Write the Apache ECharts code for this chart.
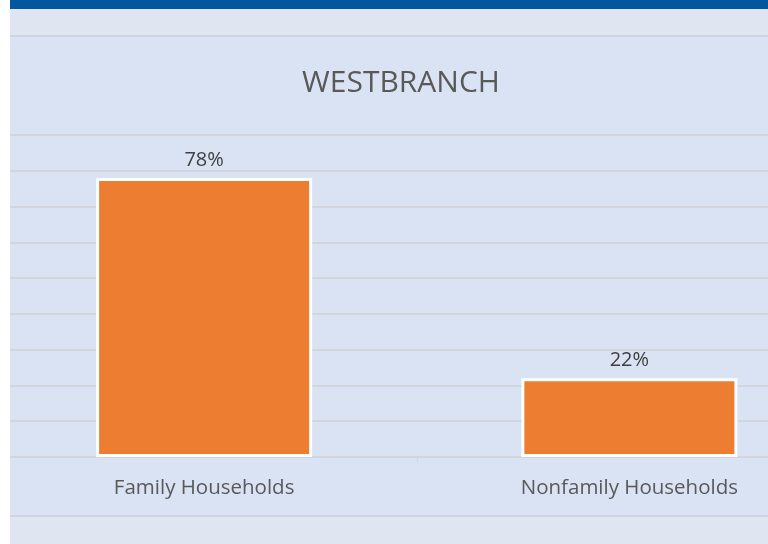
<!DOCTYPE html>
<html>
<head>
<meta charset="utf-8">
<script src="https://cdn.jsdelivr.net/npm/echarts@6/dist/echarts.min.js"></script>
<style>
  html, body { margin: 0; padding: 0; background: #ffffff; overflow: hidden; width: 768px; height: 544px; }
  #main { position: absolute; left: -9px; top: 9px; width: 851px; height: 535px; }
  #band { position: absolute; left: 10px; top: 0; width: 758px; height: 9px; background: #02589e; z-index: 2; }
  #edge { position: absolute; left: 0; top: 0; width: 10px; height: 544px; background: #ffffff; z-index: 2; }
</style>
</head>
<body>
<div id="main"></div>
<div id="band"></div>
<div id="edge"></div>
<script>
// chart data
var categories = ['Family Households', 'Nonfamily Households'];
var shares = [78, 22];
var chartTitle = 'WESTBRANCH';

var myChart = echarts.init(document.getElementById('main'));
myChart.setOption({
    backgroundColor: '#dfe6f2',
    title: {
        text: chartTitle,
        left: 405,
        textAlign: 'center',
        top: 54,
        textStyle: { fontFamily: 'Open Sans', fontSize: 30, fontWeight: 'normal', color: '#595959' }
    },
    graphic: [
        { type: 'rect', z: -10, shape: { x: 0, y: 27, width: 851, height: 480 }, style: { fill: '#dae3f3' } },
        { type: 'line', z: -5, shape: { x1: 0, y1: 27, x2: 851, y2: 27 }, style: { stroke: '#d2d6dc', lineWidth: 2 } },
        { type: 'line', z: -5, shape: { x1: 0, y1: 507, x2: 851, y2: 507 }, style: { stroke: '#d2d6dc', lineWidth: 2 } }
    ],
    grid: { left: 0.5, right: 0, top: 126, height: 322 },
    xAxis: {
        type: 'category',
        data: categories,
        axisLine: { lineStyle: { color: '#d2d6dc', width: 2 } },
        axisTick: { show: true, length: 5, lineStyle: { color: '#d2d6dc' } },
        axisLabel: { margin: 21, fontFamily: 'Open Sans', fontSize: 20.5, color: '#595959' }
    },
    yAxis: {
        type: 'value',
        min: 0,
        max: 90,
        interval: 10,
        axisLabel: { show: false },
        axisLine: { show: false },
        axisTick: { show: false },
        splitLine: { lineStyle: { color: '#d2d6dc', width: 2 } }
    },
    series: [{
        type: 'bar',
        data: shares,
        barWidth: '50.8%',
        itemStyle: { color: '#ed7d31', borderColor: '#ffffff', borderWidth: 3 },
        label: {
            show: true,
            position: 'top',
            distance: 8,
            formatter: '{c}%',
            fontFamily: 'Open Sans',
            fontSize: 20,
            color: '#404040'
        }
    }]
});
</script>
</body>
</html>
